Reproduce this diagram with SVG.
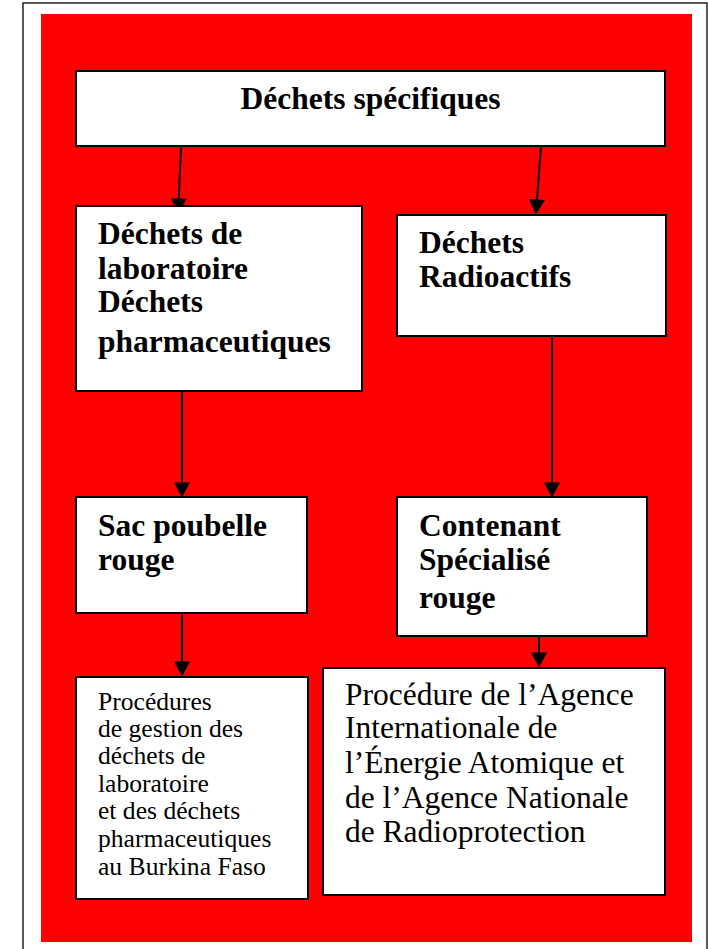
<svg xmlns="http://www.w3.org/2000/svg" width="708" height="949" viewBox="0 0 708 949">
<style>
.box{fill:#fff;stroke:#000;stroke-width:2}
.b{font-family:"Liberation Serif","Times New Roman",serif;font-weight:bold;font-size:31.5px;fill:#000}
.r{font-family:"Liberation Serif","Times New Roman",serif;font-size:31.5px;fill:#000}
.s{font-family:"Liberation Serif","Times New Roman",serif;font-size:25.6px;fill:#000}
.c{stroke:#000;stroke-width:2;fill:none;marker-end:url(#ah)}
</style>
<defs>
<marker id="ah" markerUnits="userSpaceOnUse" markerWidth="16" markerHeight="16" viewBox="0 0 14 15" refX="8" refY="7.5" orient="auto">
<path d="M0,0 L14,7.5 L0,15 z" fill="#000"/>
</marker>
</defs>
<rect x="0" y="0" width="708" height="949" fill="#fff"/>
<rect x="23" y="3" width="684" height="960" fill="none" stroke="#222" stroke-width="1.5"/>
<rect x="41" y="14" width="651" height="928" fill="#ff0000"/>

<g id="connectors">
<line class="c" x1="181" y1="146" x2="178.4" y2="207"/>
<line class="c" x1="541" y1="146" x2="536.4" y2="208"/>
<line class="c" x1="182" y1="391" x2="182" y2="491"/>
<line class="c" x1="552" y1="336" x2="552" y2="491"/>
<line class="c" x1="182" y1="613" x2="182" y2="670"/>
<line class="c" x1="539" y1="636" x2="539" y2="661"/>
</g>

<g id="n-specifiques">
<rect class="box" x="76" y="71" width="589" height="75"/>
<text class="b" x="370.5" y="109" text-anchor="middle">Déchets spécifiques</text>
</g>
<g id="n-labo">
<rect class="box" x="76" y="206" width="286" height="185"/>
<text class="b" x="98" y="244">Déchets de</text>
<text class="b" x="98" y="279">laboratoire</text>
<text class="b" x="98" y="312">Déchets</text>
<text class="b" x="98" y="352">pharmaceutiques</text>
</g>
<g id="n-radio">
<rect class="box" x="397" y="215" width="269" height="121"/>
<text class="b" x="419" y="253">Déchets</text>
<text class="b" x="419" y="287">Radioactifs</text>
</g>
<g id="n-sac">
<rect class="box" x="76" y="497" width="231" height="116"/>
<text class="b" x="98" y="536">Sac poubelle</text>
<text class="b" x="98" y="570">rouge</text>
</g>
<g id="n-contenant">
<rect class="box" x="397" y="497" width="250" height="139"/>
<text class="b" x="419" y="536">Contenant</text>
<text class="b" x="419" y="570">Spécialisé</text>
<text class="b" x="419" y="608">rouge</text>
</g>
<g id="n-proc-labo">
<rect class="box" x="76" y="677" width="232" height="222"/>
<text class="s" x="98" y="710">Procédures</text>
<text class="s" x="98" y="737">de gestion des</text>
<text class="s" x="98" y="764">déchets de</text>
<text class="s" x="98" y="792">laboratoire</text>
<text class="s" x="98" y="819">et des déchets</text>
<text class="s" x="98" y="847">pharmaceutiques</text>
<text class="s" x="98" y="875">au Burkina Faso</text>
</g>
<g id="n-proc-radio">
<rect class="box" x="323" y="668" width="342" height="227"/>
<text class="r" x="345" y="705">Procédure de l’Agence</text>
<text class="r" x="345" y="738">Internationale de</text>
<text class="r" x="345" y="773">l’Énergie Atomique et</text>
<text class="r" x="345" y="808">de l’Agence Nationale</text>
<text class="r" x="345" y="842">de Radioprotection</text>
</g>
</svg>
